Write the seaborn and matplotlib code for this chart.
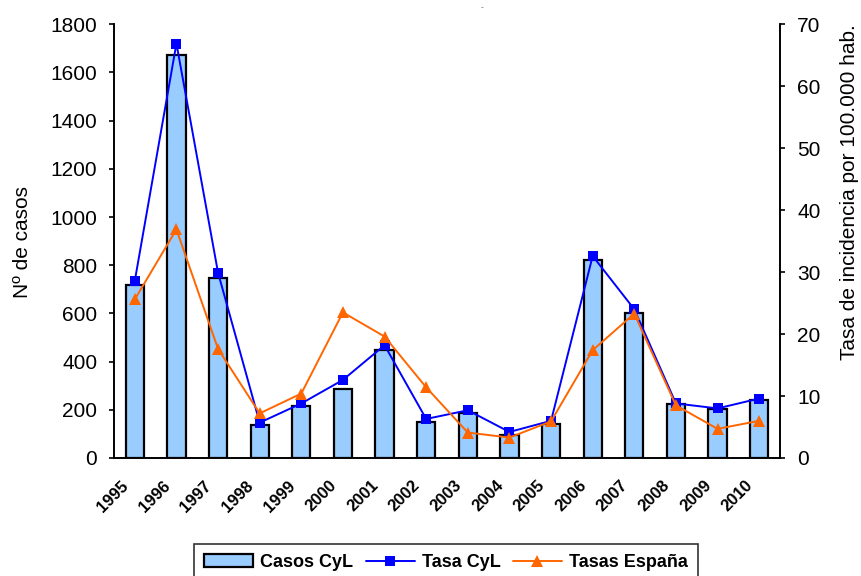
import numpy as np
import pandas as pd
import matplotlib
matplotlib.use("Agg")
import matplotlib.pyplot as plt
import matplotlib.transforms as mtransforms
from matplotlib.patches import Patch
from matplotlib.lines import Line2D
import seaborn as sns

years = ["1995", "1996", "1997", "1998", "1999", "2000", "2001", "2002",
         "2003", "2004", "2005", "2006", "2007", "2008", "2009", "2010"]
casos_cyl = [716, 1671, 746, 137, 215, 285, 450, 151, 186, 97, 143, 821, 603, 222, 202, 242]
tasa_cyl = [28.6, 66.9, 29.9, 5.7, 8.8, 12.6, 18.2, 6.3, 7.7, 4.2, 6.0, 32.6, 24.0, 8.8, 8.0, 9.6]
tasa_espana = [25.6, 36.9, 17.6, 7.2, 10.4, 23.5, 19.6, 11.4, 4.1, 3.3, 5.9, 17.4, 23.3, 8.5, 4.7, 6.0]

sns.set_style("white")
plt.rcParams["font.family"] = ["Liberation Sans", "DejaVu Sans"]
plt.rcParams.update({"text.color": "black", "axes.labelcolor": "black",
                     "xtick.color": "black", "ytick.color": "black"})

fig = plt.figure(figsize=(8.61, 5.76), dpi=100)
ax = fig.add_axes([0.1324, 0.2049, 0.9059 - 0.1324, 0.9578 - 0.2049])

df = pd.DataFrame({"year": years, "casos": casos_cyl, "pos": np.arange(len(years))})
sns.barplot(data=df, x="year", y="casos", ax=ax, color="#99CCFF", saturation=1,
            width=0.44, edgecolor="black", linewidth=1.6)

ax2 = ax.twinx()
sns.lineplot(x=df["pos"], y=tasa_cyl, ax=ax2, color="#0000FF", marker="s",
             markersize=7.5, markeredgewidth=0, linewidth=1.4)
sns.lineplot(x=df["pos"], y=tasa_espana, ax=ax2, color="#FF6600", marker="^",
             markersize=9, markeredgewidth=0, linewidth=1.4)

for a in (ax, ax2):
    a.set_xlim(-0.5, len(years) - 0.5)
    a.spines["top"].set_visible(False)
    for s in ("left", "right", "bottom"):
        a.spines[s].set_color("black")
        a.spines[s].set_linewidth(1.2)

ax.set_ylim(0, 1800)
ax.set_yticks(np.arange(0, 1801, 200))
ax2.set_ylim(0, 70)
ax2.set_yticks(np.arange(0, 71, 10))

ax.tick_params(axis="y", direction="out", length=3.5, width=1.2, color="black",
               labelcolor="black", labelsize=15, left=True, pad=8.5)
ax2.tick_params(axis="y", direction="out", length=3.5, width=1.2, color="black",
                labelcolor="black", labelsize=15, right=True, pad=9)
ax.tick_params(axis="x", length=0, pad=14.4, labelcolor="black")
ax.set_xticks(np.arange(len(years)))
ax.set_xticklabels(years, rotation=45, ha="right", va="top", rotation_mode="anchor",
                   fontsize=12, fontweight="bold", color="black")
shift = mtransforms.ScaledTranslation(-0.14, 0, fig.dpi_scale_trans)
for lab in ax.get_xticklabels():
    lab.set_transform(lab.get_transform() + shift)

ax.set_xlabel("")
ax.set_ylabel("Nº de casos", fontsize=15, color="black")
ax.yaxis.set_label_coords(-0.123, 0.498)
ax2.set_ylabel("Tasa de incidencia por 100.000 hab.", fontsize=15, color="black")
ax2.yaxis.set_label_coords(1.090, 0.614)
ax.grid(False)
ax2.grid(False)

handles = [
    Patch(facecolor="#99CCFF", edgecolor="black", linewidth=1.6, label="Casos CyL"),
    Line2D([0], [0], color="#0000FF", marker="s", markersize=7, linewidth=1.4,
           markeredgewidth=0, label="Tasa CyL"),
    Line2D([0], [0], color="#FF6600", marker="^", markersize=9, linewidth=1.4,
           markeredgewidth=0, label="Tasas España"),
]
leg = fig.legend(handles=handles, loc="upper center", bbox_to_anchor=(0.518, 0.0556),
                 ncol=3, frameon=True, fancybox=False, edgecolor="black",
                 prop={"weight": "bold", "size": 13}, handlelength=2.7,
                 columnspacing=0.7, handletextpad=0.39, borderpad=0.55,
                 borderaxespad=0)
leg.get_frame().set_linewidth(1.2)
for t in leg.get_texts():
    t.set_color("black")

fig.text(0.5595, 0.992, "-", fontsize=6, color="#555555", ha="center", va="top")

fig.savefig("out.png", dpi=100)
